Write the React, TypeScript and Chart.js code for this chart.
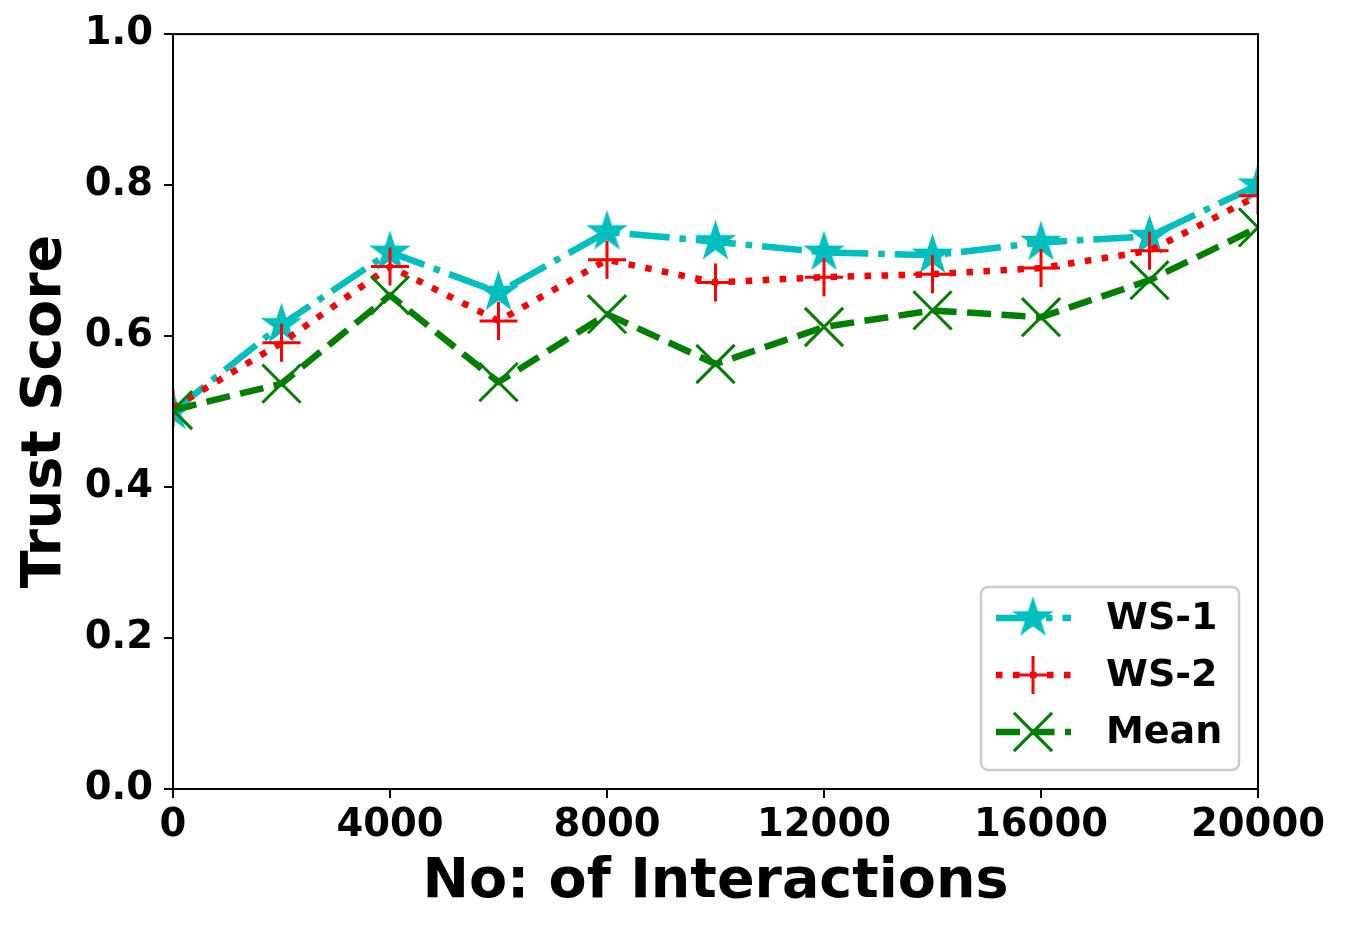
import { useEffect, useRef } from "react";
import { Chart, registerables } from "chart.js";
import { drawPoint } from "chart.js/helpers";

Chart.register(...registerables);

// values
const interactions = [0, 2000, 4000, 6000, 8000, 10000, 12000, 14000, 16000, 18000, 20000];
const ws1Scores = [0.5, 0.615, 0.711, 0.658, 0.738, 0.725, 0.711, 0.707, 0.724, 0.732, 0.8];
const ws2Scores = [0.505, 0.591, 0.692, 0.62, 0.701, 0.671, 0.678, 0.682, 0.69, 0.713, 0.786];
const meanScores = [0.502, 0.537, 0.654, 0.539, 0.629, 0.563, 0.612, 0.634, 0.625, 0.674, 0.744];
const xTicks = [0, 4000, 8000, 12000, 16000, 20000];
const yTicks = [0, 0.2, 0.4, 0.6, 0.8, 1.0];

const FONT = "'DejaVu Sans', sans-serif";
const CYAN = "#00BFBF";
const RED = "#FF0000";
const GREEN = "#008000";

function makeStar(r: number, color: string) {
  const size = Math.ceil(r * 2 + 4);
  const c = document.createElement("canvas");
  c.width = size;
  c.height = size;
  const g = c.getContext("2d")!;
  g.translate(size / 2, size / 2);
  g.beginPath();
  for (let i = 0; i < 10; i++) {
    const rad = i % 2 === 0 ? r : r * 0.382;
    const a = -Math.PI / 2 + (i * Math.PI) / 5;
    const px = Math.cos(a) * rad;
    const py = Math.sin(a) * rad;
    if (i === 0) g.moveTo(px, py);
    else g.lineTo(px, py);
  }
  g.closePath();
  g.fillStyle = color;
  g.fill();
  g.lineWidth = 1.5;
  g.strokeStyle = color;
  g.lineJoin = "miter";
  g.stroke();
  return c;
}

const framePlugin = {
  id: "frame",
  afterDatasetsDraw(chart: any) {
    const { ctx, chartArea } = chart;
    ctx.save();
    ctx.strokeStyle = "#000";
    ctx.lineWidth = 2;
    ctx.strokeRect(chartArea.left, chartArea.top, chartArea.right - chartArea.left, chartArea.bottom - chartArea.top);
    ctx.restore();
  },
};

const boxLegendPlugin = {
  id: "boxLegend",
  afterDraw(chart: any) {
    const { ctx, chartArea } = chart;
    const w = 258;
    const h = 183;
    const x0 = chartArea.right - 19 - w;
    const y0 = chartArea.bottom - 19 - h;
    ctx.save();
    ctx.beginPath();
    ctx.roundRect(x0, y0, w, h, 7);
    ctx.fillStyle = "rgba(255,255,255,0.85)";
    ctx.fill();
    ctx.lineWidth = 2.5;
    ctx.strokeStyle = "#cccccc";
    ctx.stroke();

    chart.data.datasets.forEach((ds: any, i: number) => {
      const y = y0 + 31 + i * 57;
      ctx.save();
      ctx.beginPath();
      ctx.setLineDash(ds.borderDash || []);
      ctx.lineWidth = ds.borderWidth;
      ctx.strokeStyle = ds.borderColor;
      ctx.lineCap = "butt";
      ctx.moveTo(x0 + 15, y);
      ctx.lineTo(x0 + 90, y);
      ctx.stroke();
      ctx.restore();

      ctx.save();
      ctx.strokeStyle = ds.borderColor;
      ctx.fillStyle = ds.borderColor;
      ctx.lineWidth = ds.pointBorderWidth;
      drawPoint(ctx, { pointStyle: ds.pointStyle, radius: ds.pointRadius, rotation: 0, borderWidth: ds.pointBorderWidth }, x0 + 52, y);
      ctx.restore();

      ctx.fillStyle = "#000";
      ctx.font = `bold 38px ${FONT}`;
      ctx.textBaseline = "middle";
      ctx.textAlign = "left";
      ctx.fillText(ds.label, x0 + 125, y + 1);
    });
    ctx.restore();
  },
};

export default function App() {
  const canvasRef = useRef<HTMLCanvasElement>(null);
  const chartRef = useRef<Chart | null>(null);

  useEffect(() => {
    if (!canvasRef.current) return;
    if (chartRef.current) chartRef.current.destroy();

    const star = makeStar(19.5, CYAN);
    const toPoints = (ys: number[]) => interactions.map((x, i) => ({ x, y: ys[i] }));

    chartRef.current = new Chart(canvasRef.current, {
      type: "line",
      data: {
        datasets: [
          {
            label: "WS-1",
            data: toPoints(ws1Scores),
            borderColor: CYAN,
            backgroundColor: CYAN,
            borderWidth: 6.5,
            borderDash: [40, 10, 6.5, 10],
            borderJoinStyle: "round",
            pointStyle: star as any,
            pointRadius: 20,
            pointBorderWidth: 1.5,
            tension: 0,
            order: 3,
          },
          {
            label: "WS-2",
            data: toPoints(ws2Scores),
            borderColor: RED,
            backgroundColor: RED,
            borderWidth: 6.5,
            borderDash: [6.5, 10.5],
            borderJoinStyle: "round",
            pointStyle: "cross",
            pointRadius: 19,
            pointBorderWidth: 3,
            pointBorderColor: RED,
            tension: 0,
            order: 2,
          },
          {
            label: "Mean",
            data: toPoints(meanScores),
            borderColor: GREEN,
            backgroundColor: GREEN,
            borderWidth: 6.5,
            borderDash: [24, 10.5],
            borderJoinStyle: "round",
            pointStyle: "crossRot",
            pointRadius: 27,
            pointBorderWidth: 3,
            pointBorderColor: GREEN,
            tension: 0,
            order: 1,
          },
        ],
      },
      options: {
        responsive: false,
        animation: false,
        events: [],
        layout: { padding: { top: 34, right: 87, left: 0, bottom: 0 } },
        plugins: {
          legend: { display: false },
          tooltip: { enabled: false },
        },
        scales: {
          x: {
            type: "linear",
            min: 0,
            max: 20000,
            afterBuildTicks: (scale: any) => {
              scale.ticks = xTicks.map((value) => ({ value }));
            },
            afterFit: (scale: any) => {
              scale.height = 143;
            },
            grid: { display: true, drawOnChartArea: false, drawTicks: true, tickLength: 9, color: "#000", lineWidth: 2 },
            border: { display: false },
            ticks: {
              color: "#000",
              padding: 5,
              maxRotation: 0,
              autoSkip: false,
              font: { family: FONT, size: 38.5, weight: "bold" },
              callback: (v: any) => String(v),
            },
            title: {
              display: true,
              text: "No: of Interactions",
              color: "#000",
              font: { family: FONT, size: 55.5, weight: "bold" },
              padding: { top: 0, bottom: 16 },
            },
          },
          y: {
            min: 0,
            max: 1,
            afterBuildTicks: (scale: any) => {
              scale.ticks = yTicks.map((value) => ({ value }));
            },
            afterFit: (scale: any) => {
              scale.width = 173;
            },
            grid: { display: true, drawOnChartArea: false, drawTicks: true, tickLength: 9, color: "#000", lineWidth: 2 },
            border: { display: false },
            ticks: {
              color: "#000",
              padding: 11,
              autoSkip: false,
              font: { family: FONT, size: 38.5, weight: "bold" },
              callback: (v: any) => Number(v).toFixed(1),
            },
            title: {
              display: true,
              text: "Trust Score",
              color: "#000",
              font: { family: FONT, size: 55.5, weight: "bold" },
              padding: { top: 12, bottom: 0 },
            },
          },
        },
      },
      plugins: [framePlugin, boxLegendPlugin],
    } as any);

    return () => {
      if (chartRef.current) {
        chartRef.current.destroy();
        chartRef.current = null;
      }
    };
  }, []);

  return (
    <div style={{ position: "fixed", left: 0, top: 0, width: 1345, height: 932, background: "#fff" }}>
      <canvas ref={canvasRef} width={1345} height={932} />
    </div>
  );
}
